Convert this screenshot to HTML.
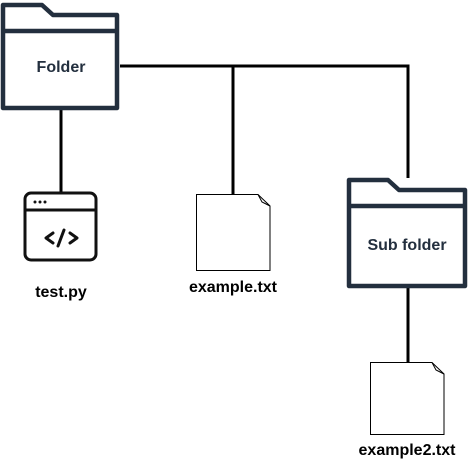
<!DOCTYPE html>
<html><head><style>body{margin:0;background:#fff}svg{display:block}</style></head>
<body>
<svg width="469" height="466" xmlns="http://www.w3.org/2000/svg" font-family="Liberation Sans, sans-serif">
<g stroke="#000" stroke-width="3" fill="none">
<path d="M120 66 H408 V178"/>
<path d="M233 66 V195"/>
<path d="M61 110 V192"/>
<path d="M408 288 V362"/>
</g>
<g stroke="#232f3e" stroke-width="4.5" fill="#fff" stroke-linejoin="round">
<path d="M3 5 H42 L53 15 H117 V108 H3 Z"/>
<path d="M3 31 H117" fill="none"/>
<path d="M349 180 H388 L399 190 H465 V286 H349 Z"/>
<path d="M349 206 H465" fill="none"/>
</g>
<text x="61" y="72" text-anchor="middle" font-size="16" font-weight="bold" fill="#232f3e">Folder</text>
<text x="407" y="250" text-anchor="middle" font-size="16" font-weight="bold" fill="#232f3e">Sub folder</text>
<g stroke="#111" stroke-width="3" fill="#fff" stroke-linecap="round" stroke-linejoin="round">
<rect x="25" y="193" width="71" height="67" rx="6"/>
<path d="M25 210 H96" fill="none"/>
<path d="M53 233 L46 238 L53 243 M70 233 L77 238 L70 243 M64 230 L58 246" fill="none"/>
</g>
<g fill="#111"><circle cx="35" cy="202" r="1.5"/><circle cx="40" cy="202" r="1.5"/><circle cx="45" cy="202" r="1.5"/></g>
<g stroke="#000" stroke-width="1" fill="#fff">
<path d="M196.5 194.5 H258 L270 206 V270.5 H196.5 Z"/>
<path d="M258 194.5 L262 202 L270 206" fill="none"/>
<path d="M370.5 362.5 H432 L444 374 V434.5 H370.5 Z"/>
<path d="M432 362.5 L436 370 L444 374" fill="none"/>
</g>
<g font-size="16" font-weight="bold" fill="#000" text-anchor="middle">
<text x="61" y="297">test.py</text>
<text x="233" y="292">example.txt</text>
<text x="407" y="455">example2.txt</text>
</g>
</svg>
</body></html>
